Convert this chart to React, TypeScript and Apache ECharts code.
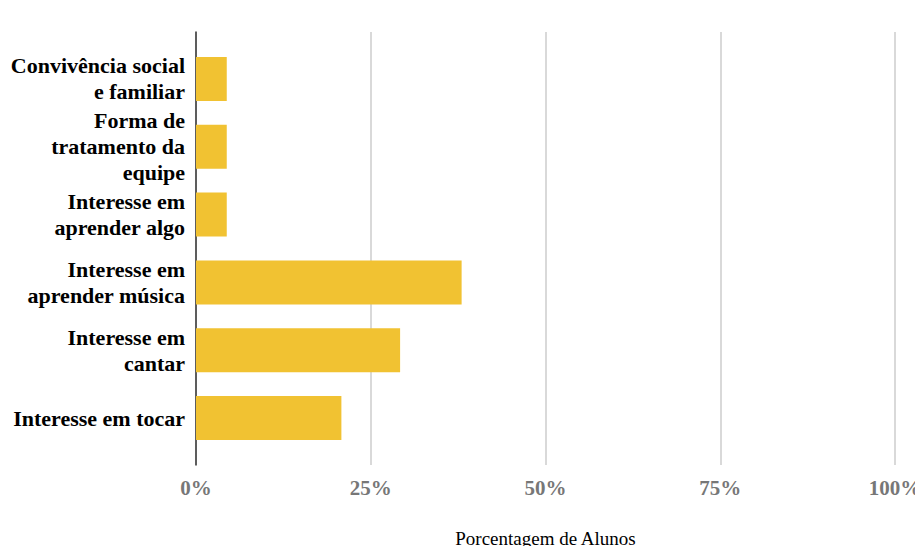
import React, { useEffect, useRef } from "react";
import * as echarts from "echarts";

const categories = [
  "Convivência social\ne familiar",
  "Forma de\ntratamento da\nequipe",
  "Interesse em\naprender algo",
  "Interesse em\naprender música",
  "Interesse em\ncantar",
  "Interesse em tocar",
];
const values = [4.4, 4.4, 4.4, 38.0, 29.2, 20.8];
const xTicks = [0, 25, 50, 75, 100];
const xTitle = "Porcentagem de Alunos";

const SERIF = "'Liberation Serif', 'Times New Roman', serif";

export default function App() {
  const ref = useRef<HTMLDivElement>(null);
  useEffect(() => {
    if (!ref.current) return;
    const chart = echarts.init(ref.current, undefined, { renderer: "svg" });
    chart.setOption({
      animation: false,
      backgroundColor: "#ffffff",
      grid: [
        { left: 196, right: 20, top: 45, height: 407, outerBoundsMode: "none", containLabel: false },
        { left: 196, right: 20, top: 32, height: 433, outerBoundsMode: "none", containLabel: false },
      ],
      xAxis: [
        {
          gridIndex: 0,
          type: "value",
          min: xTicks[0],
          max: xTicks[xTicks.length - 1],
          show: false,
        },
        {
          gridIndex: 1,
          type: "value",
          min: xTicks[0],
          max: xTicks[xTicks.length - 1],
          interval: 25,
          axisLine: { show: false },
          axisTick: { show: false },
          splitLine: { show: true, lineStyle: { color: "#cccccc", width: 1.5 } },
          axisLabel: {
            formatter: "{value}%",
            color: "#777777",
            fontFamily: SERIF,
            fontWeight: "bold",
            fontSize: 21,
            margin: 12,
          },
          name: xTitle,
          nameLocation: "middle",
          nameGap: 64,
          nameTextStyle: { color: "#000000", fontFamily: SERIF, fontSize: 19 },
        },
      ],
      yAxis: [
        {
          gridIndex: 0,
          type: "category",
          data: categories,
          inverse: true,
          axisLine: { show: false },
          axisTick: { show: false },
          axisLabel: {
            color: "#000000",
            fontFamily: SERIF,
            fontWeight: "bold",
            fontSize: 22,
            lineHeight: 26,
            margin: 11,
            align: "right",
          },
        },
        {
          gridIndex: 1,
          type: "value",
          min: 0,
          max: 1,
          axisLine: { show: true, lineStyle: { color: "#333333", width: 1.5 } },
          axisTick: { show: false },
          axisLabel: { show: false },
          splitLine: { show: false },
        },
      ],
      series: [
        {
          type: "bar",
          xAxisIndex: 0,
          yAxisIndex: 0,
          data: values,
          barWidth: 44,
          itemStyle: { color: "#F1C232" },
          z: 3,
        },
      ],
    });
    return () => chart.dispose();
  }, []);
  return (
    <div
      ref={ref}
      style={{ position: "fixed", left: 0, top: 0, width: 915, height: 546 }}
    />
  );
}
